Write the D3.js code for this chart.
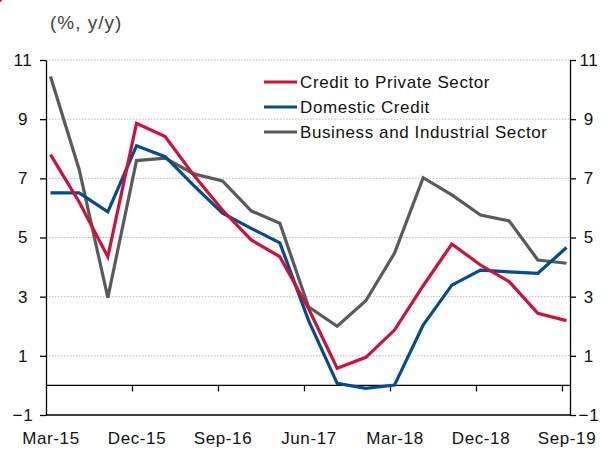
<!DOCTYPE html>
<html>
<head>
<meta charset="utf-8">
<script src="https://cdn.jsdelivr.net/npm/d3@7"></script>
<style>
  body { margin: 0; background: #fff; }
  svg { font-family: "Liberation Sans", Arial, sans-serif; }
</style>
</head>
<body>
<svg id="chart"></svg>
<script>
// quarterly, Mar-15 .. Sep-19
const quarters = ['Mar-15','Jun-15','Sep-15','Dec-15','Mar-16','Jun-16','Sep-16','Dec-16',
  'Mar-17','Jun-17','Sep-17','Dec-17','Mar-18','Jun-18','Sep-18','Dec-18','Mar-19','Jun-19','Sep-19'];
const privateCredit = [7.8, 6.2, 4.35, 8.86, 8.41, 7.1, 5.93, 4.92, 4.35, 2.6, 0.58, 0.95, 1.87, 3.37, 4.78, 4.07, 3.51, 2.44, 2.19];
const domesticCredit = [6.51, 6.51, 5.87, 8.1, 7.73, 6.75, 5.82, 5.31, 4.82, 2.2, 0.07, -0.1, 0.01, 2.04, 3.39, 3.9, 3.84, 3.79, 4.66];
const businessSector = [10.44, 7.3, 2.97, 7.6, 7.68, 7.15, 6.91, 5.9, 5.48, 2.66, 2.0, 2.86, 4.47, 7.02, 6.44, 5.76, 5.56, 4.24, 4.13];
const yTicks = [-1, 1, 3, 5, 7, 9, 11];
const xLabelIdx = [0, 3, 6, 9, 12, 15, 18];

const series = [
  { name: 'Credit to Private Sector', values: privateCredit, color: '#d0103a' },
  { name: 'Domestic Credit', values: domesticCredit, color: '#004c8c' },
  { name: 'Business and Industrial Sector', values: businessSector, color: '#5a5a5a' }
];

const width = 610, height = 450;
const plot = { left: 46, right: 570, top: 60, bottom: 415 };

const svg = d3.select('#chart').attr('width', width).attr('height', height);

// little red mark in the corner
svg.append('circle').attr('cx', -3).attr('cy', -3).attr('r', 6).attr('fill', '#d0103a');

const x = d3.scaleLinear().domain([0, quarters.length - 1]).range([50.5, 566.5]);
const y = d3.scaleLinear().domain([-1, 11]).range([plot.bottom, plot.top]);

// gridlines
svg.append('g')
  .selectAll('line')
  .data(yTicks.filter(d => d > -1))
  .join('line')
  .attr('x1', plot.left).attr('x2', plot.right)
  .attr('y1', d => y(d)).attr('y2', d => y(d))
  .attr('stroke', '#bbb').attr('stroke-width', 1)
  .attr('stroke-dasharray', '1.5,1.5');

// left & right axes
const axisL = svg.append('g')
  .attr('transform', `translate(${plot.left},0)`)
  .call(d3.axisLeft(y).tickValues(yTicks).tickSize(6).tickSizeOuter(0).tickFormat(d3.format('d')));
const axisR = svg.append('g')
  .attr('transform', `translate(${plot.right},0)`)
  .call(d3.axisRight(y).tickValues(yTicks).tickSize(6).tickSizeOuter(0).tickFormat(d3.format('d')));

[axisL, axisR].forEach(g => {
  g.select('.domain').attr('stroke', '#000').attr('stroke-width', 1.3);
  g.selectAll('.tick line').attr('stroke', '#000').attr('stroke-width', 1.3);
  g.selectAll('.tick text')
    .attr('font-size', 17).attr('fill', '#111')
    .attr('font-family', '"Liberation Sans", Arial, sans-serif')
    .attr('letter-spacing', 0.8)
    .attr('text-anchor', 'middle');
});
axisL.selectAll('.tick text').attr('x', -23);
axisR.selectAll('.tick text').attr('x', 19);

// bottom border and zero line
svg.append('line')
  .attr('x1', plot.left).attr('x2', plot.right)
  .attr('y1', y(-1)).attr('y2', y(-1))
  .attr('stroke', '#000').attr('stroke-width', 1.3);
svg.append('line')
  .attr('x1', plot.left).attr('x2', plot.right)
  .attr('y1', y(0)).attr('y2', y(0))
  .attr('stroke', '#000').attr('stroke-width', 1.3);

// category ticks on zero line
svg.append('g')
  .selectAll('line')
  .data(xLabelIdx.slice(1))
  .join('line')
  .attr('x1', d => x(d) - 4).attr('x2', d => x(d) - 4)
  .attr('y1', y(0)).attr('y2', y(0) + 6)
  .attr('stroke', '#000').attr('stroke-width', 1.3);

// x labels
svg.append('g')
  .selectAll('text')
  .data(xLabelIdx)
  .join('text')
  .attr('x', d => x(d) + 0.5)
  .attr('y', 444)
  .attr('text-anchor', 'middle')
  .attr('font-size', 17)
  .attr('letter-spacing', 0.6)
  .attr('fill', '#111')
  .text(d => quarters[d]);

// lines
const line = d3.line().x((d, i) => x(i)).y(d => y(d));
series.slice().reverse().forEach(s => {
  svg.append('path')
    .datum(s.values)
    .attr('fill', 'none')
    .attr('stroke', s.color)
    .attr('stroke-width', 3.2)
    .attr('stroke-linejoin', 'miter')
    .attr('d', line);
});

// unit label
svg.append('text')
  .attr('x', 50).attr('y', 29)
  .attr('font-size', 19)
  .attr('letter-spacing', 1)
  .attr('fill', '#444')
  .text('(%, y/y)');

// legend
const legend = svg.append('g').attr('transform', 'translate(264,82)');
series.forEach((s, i) => {
  const row = legend.append('g').attr('transform', `translate(0,${i * 25})`);
  row.append('line')
    .attr('x1', 0).attr('x2', 33).attr('y1', 0).attr('y2', 0)
    .attr('stroke', s.color).attr('stroke-width', 3.2);
  row.append('text')
    .attr('x', 36).attr('y', 6)
    .attr('font-size', 17)
    .attr('letter-spacing', 0.6)
    .attr('fill', '#111')
    .text(s.name);
});
</script>
</body>
</html>
